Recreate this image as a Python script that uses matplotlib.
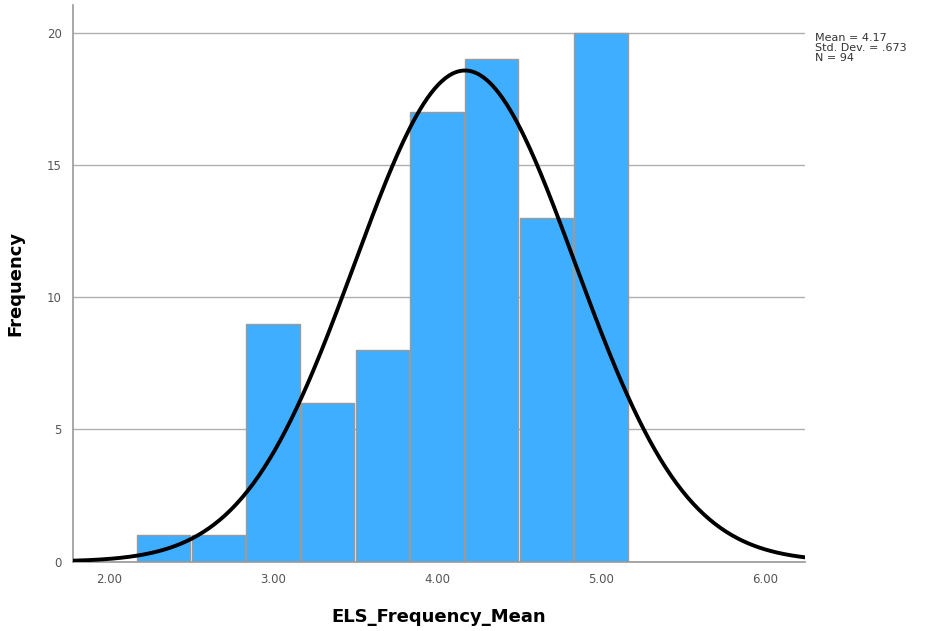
import numpy as np
import matplotlib.pyplot as plt

# ── Data ───────────────────────────────────────────────────────────────────────
bin_edges = [2.1667, 2.5, 2.8333, 3.1667, 3.5, 3.8333, 4.1667, 4.5, 4.8333, 5.1667]
counts    = [1, 1, 9, 6, 8, 17, 19, 13, 20]
mean, sd, n = 4.17, 0.673, 94
x_ticks   = [2.0, 3.0, 4.0, 5.0, 6.0]
y_ticks   = [0, 5, 10, 15, 20]

# ── Figure ─────────────────────────────────────────────────────────────────────
fig = plt.figure(figsize=(9.27, 6.31), dpi=100)
ax = fig.add_axes([0.0787, 0.110, 0.790, 0.882])

edges = np.array(bin_edges)
widths = np.diff(edges)
gap = 0.008  # thin white seam between neighbouring bars
ax.bar(edges[:-1] + gap / 2, counts, width=widths - gap, align='edge',
       color='#40aefe', edgecolor='#9a9a9a', linewidth=1.0, zorder=2)

# normal curve scaled to counts per bin
xs = np.linspace(1.78, 6.245, 400)
bw = widths.mean()
ys = n * bw / (sd * np.sqrt(2 * np.pi)) * np.exp(-0.5 * ((xs - mean) / sd) ** 2)
ax.plot(xs, ys, color='black', linewidth=2.8, zorder=3)

ax.set_xlim(1.78, 6.245)
ax.set_ylim(0, 21.05)
ax.set_xticks(x_ticks)
ax.set_xticklabels([f'{v:.2f}' for v in x_ticks])
ax.set_yticks(y_ticks)
ax.tick_params(length=0, labelsize=8.5, colors='#555555', pad=8)
ax.grid(axis='y', color='#b0b0b0', linewidth=1.0, zorder=1)
ax.set_axisbelow(True)

for side in ['top', 'right']:
    ax.spines[side].set_visible(False)
for side in ['left', 'bottom']:
    ax.spines[side].set_color('#999999')
    ax.spines[side].set_linewidth(1.2)

ax.set_xlabel('ELS_Frequency_Mean', fontsize=13, fontweight='bold', labelpad=16)
ax.set_ylabel('Frequency', fontsize=13, fontweight='bold', labelpad=16)

fig.text(0.879, 0.948, f'Mean = {mean:.2f}\nStd. Dev. = .673\nN = {n}',
         fontsize=8, va='top', ha='left', color='#333333', linespacing=1.0)

fig.savefig('out.png', dpi=100)
